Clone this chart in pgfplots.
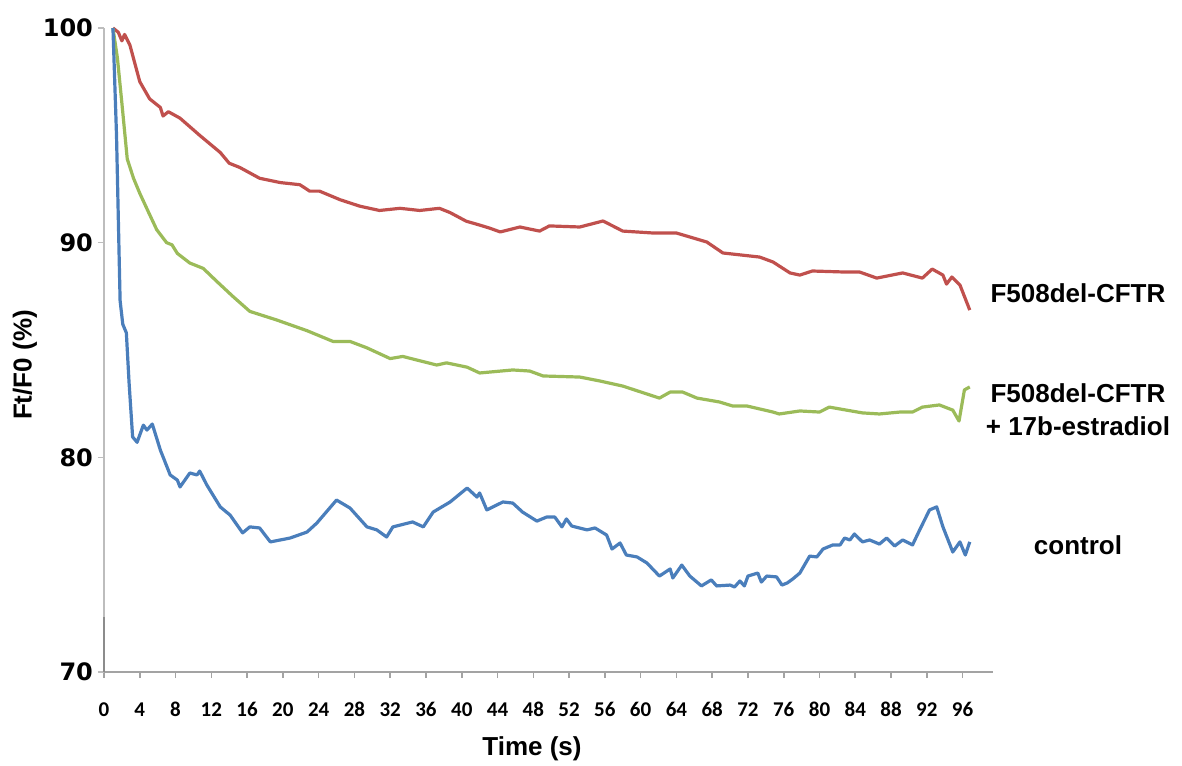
\documentclass[border=0pt]{standalone}
\usepackage{pgfplots}
\pgfplotsset{compat=1.18}
\usepackage{fontspec}
\setmainfont{Liberation Sans}
\newfontfamily\carlito{Carlito}
\newfontfamily\dejavu{DejaVu Sans}
\definecolor{cred}{HTML}{C0504D}
\definecolor{cgreen}{HTML}{9BBB59}
\definecolor{cblue}{HTML}{4A7EBB}
\definecolor{axgray}{HTML}{BDBDBD}
\definecolor{axdark}{HTML}{8C8C8C}
\begin{document}
\begin{tikzpicture}
\useasboundingbox (-52pt,-46.5pt) rectangle (539pt,336pt);
\begin{axis}[
  at={(0,0)}, anchor=origin,
  scale only axis,
  width=444.5pt, height=322pt,
  xmin=0, xmax=99.4, ymin=70, ymax=100,
  axis x line=bottom, axis y line=left,
  axis line style={-, axgray, line width=0.9pt},
  x axis line style={axdark!80},
  xtick={0,4,...,96}, ytick={70,80,90,100},
  tick align=outside,
  major tick length=3pt,
  tick style={axgray, line width=0.8pt},
  x tick style={axdark!80},
  /pgf/number format/assume math mode=true,
  xticklabel style={font=\carlito\bfseries\fontsize{10.5}{12}\selectfont, anchor=base, yshift=-19pt},
  yticklabel style={font=\dejavu\bfseries\fontsize{12}{14}\selectfont, anchor=east, xshift=1pt},
  xlabel={Time (s)},
  xlabel style={font=\bfseries\fontsize{13}{15}\selectfont, at={(axis description cs:0.4814,-0.1196)}, anchor=center},
  ylabel={Ft/F0 (\%)},
  ylabel style={font=\bfseries\fontsize{13}{15}\selectfont, at={(axis description cs:-0.0889,0.4767)}, anchor=center},
  clip=false,
  every axis plot/.append style={line width=1.6pt, line join=round},
]
\draw[axdark, line width=0.9pt] (axis cs:0,70) -- (axis cs:0,72.56);
\addplot[cred] coordinates {
(1.0,100)(1.6,99.8)(2.0,99.4)(2.3,99.7)(2.9,99.2)(4.0,97.5)(5.1,96.7)(6.3,96.3)(6.6,95.9)(7.2,96.1)(8.5,95.8)(9.6,95.4)(10.7,95.0)(13.0,94.2)(14.0,93.7)(15.2,93.5)(17.4,93.0)(19.7,92.8)(21.9,92.7)(23.0,92.4)(24.1,92.4)(26.4,92.0)(28.6,91.7)(30.8,91.5)(33.1,91.6)(35.3,91.5)(37.5,91.6)(38.7,91.4)(40.5,91.0)(42.0,90.82)(43.1,90.68)(44.3,90.5)(46.5,90.73)(48.7,90.54)(49.8,90.78)(53.2,90.73)(55.8,91.01)(58.0,90.54)(61.4,90.45)(64.0,90.45)(67.4,90.03)(69.2,89.52)(73.3,89.33)(74.8,89.10)(76.7,88.59)(77.8,88.49)(79.2,88.68)(83.0,88.63)(84.5,88.63)(86.4,88.35)(89.3,88.59)(91.5,88.35)(92.6,88.77)(93.8,88.49)(94.2,88.07)(94.8,88.40)(95.7,88.03)(96.8,86.86)
};
\addplot[cgreen] coordinates {
(1.0,100)(1.5,98.6)(2.0,96.5)(2.6,93.9)(3.3,93.0)(4.0,92.3)(5.0,91.4)(5.9,90.6)(7.0,90.0)(7.6,89.9)(8.2,89.5)(9.6,89.05)(11.1,88.8)(12.6,88.2)(14.4,87.5)(16.3,86.8)(19.3,86.4)(22.7,85.9)(25.6,85.4)(27.5,85.4)(29.4,85.1)(32.0,84.6)(33.4,84.7)(37.2,84.3)(38.3,84.4)(40.6,84.2)(42.0,83.93)(45.7,84.07)(47.6,84.02)(49.1,83.79)(53.2,83.74)(55.4,83.56)(58.0,83.32)(62.1,82.76)(63.3,83.04)(64.7,83.04)(66.3,82.76)(68.8,82.58)(70.3,82.39)(71.9,82.39)(74.8,82.11)(75.5,82.02)(77.8,82.16)(80.0,82.11)(81.1,82.34)(83.0,82.20)(84.8,82.07)(86.7,82.02)(89.0,82.11)(90.4,82.11)(91.5,82.34)(93.4,82.44)(94.9,82.20)(95.6,81.69)(96.2,83.14)(96.8,83.28)
};
\addplot[cblue] coordinates {
(1.0,100)(1.4,95)(1.8,87.3)(2.1,86.2)(2.5,85.8)(2.8,83.5)(3.2,80.95)(3.7,80.7)(4.4,81.5)(4.8,81.27)(5.4,81.55)(6.3,80.34)(7.4,79.18)(8.2,78.94)(8.5,78.62)(9.6,79.27)(10.4,79.18)(10.7,79.36)(11.5,78.71)(13.0,77.69)(14.1,77.31)(15.5,76.48)(16.3,76.76)(17.4,76.71)(18.6,76.06)(20.8,76.24)(22.7,76.52)(23.8,76.94)(26.0,78.01)(27.5,77.64)(29.4,76.76)(30.5,76.62)(31.6,76.29)(32.3,76.76)(34.5,76.99)(35.7,76.76)(36.8,77.45)(38.7,77.92)(40.6,78.57)(41.7,78.15)(42.0,78.34)(42.8,77.55)(44.6,77.92)(45.7,77.87)(46.8,77.45)(48.4,77.03)(49.5,77.22)(50.4,77.22)(51.2,76.76)(51.7,77.13)(52.3,76.80)(54.0,76.62)(54.9,76.71)(56.2,76.38)(56.8,75.73)(57.7,76.01)(58.4,75.45)(59.6,75.36)(60.7,75.08)(62.1,74.47)(63.3,74.80)(63.6,74.38)(64.6,74.98)(65.5,74.47)(66.8,74.01)(67.9,74.29)(68.5,74.01)(70.0,74.05)(70.5,73.96)(71.1,74.24)(71.6,74.01)(72.0,74.47)(73.1,74.61)(73.5,74.19)(74.1,74.47)(75.2,74.43)(75.8,74.05)(76.4,74.15)(77.0,74.33)(77.8,74.61)(78.9,75.40)(79.7,75.36)(80.4,75.73)(81.5,75.92)(82.3,75.92)(82.8,76.24)(83.4,76.15)(83.9,76.43)(84.8,76.06)(85.6,76.15)(86.7,75.96)(87.5,76.24)(88.4,75.87)(89.3,76.15)(90.4,75.92)(91.2,76.62)(92.3,77.55)(93.1,77.69)(93.8,76.76)(94.9,75.59)(95.7,76.06)(96.3,75.45)(96.8,76.06)
};
\node[font=\bfseries\fontsize{13}{15}\selectfont] at (axis cs:108.9,87.66) {F508del-CFTR};
\node[font=\bfseries\fontsize{13}{16.5}\selectfont, align=center] at (axis cs:108.9,82.2) {F508del-CFTR\\+ 17b-estradiol};
\node[font=\bfseries\fontsize{13}{15}\selectfont] at (axis cs:108.9,75.92) {control};
\end{axis}
\end{tikzpicture}
\end{document}
